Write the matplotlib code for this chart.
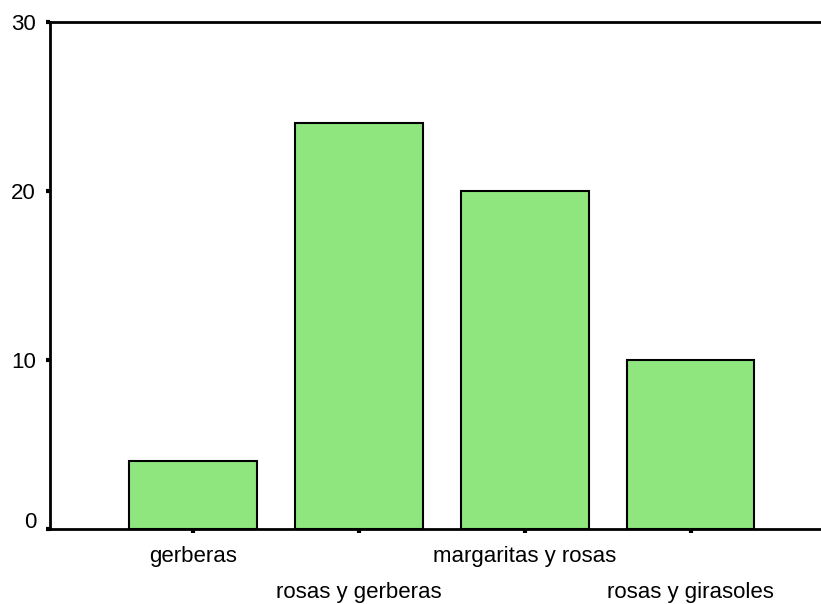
import matplotlib
matplotlib.use('Agg')
import matplotlib.pyplot as plt
import matplotlib.transforms as mtransforms

plt.rcParams['font.family'] = ['Liberation Sans', 'DejaVu Sans']

# datos
categorias = ['gerberas', 'rosas y gerberas', 'margaritas y rosas', 'rosas y girasoles']
valores = [4, 24, 20, 10]
yticks = [0, 10, 20, 30]

fig = plt.figure(figsize=(8.21, 6.04), dpi=100)
ax = fig.add_axes([50 / 821, 1 - 529 / 604, 770 / 821, 507 / 604])

x = range(len(categorias))
ax.bar(x, valores, width=0.77, color='#8fe67f', edgecolor='black', linewidth=1.5, zorder=2)

ax.set_xlim(-0.86, 3.78)
ax.set_ylim(0, 30)
ax.set_yticks(yticks)
ax.set_yticklabels([str(v) for v in yticks])
ax.set_xticks(list(x))
ax.set_xticklabels(categorias)

for s in ax.spines.values():
    s.set_linewidth(2)
ax.spines['right'].set_visible(False)

ax.tick_params(axis='both', direction='out', length=3, width=3, labelsize=16, colors='black')
ax.tick_params(axis='y', pad=7)

# el "0" va un poco más arriba, como en el original
lbl0 = ax.get_yticklabels()[0]
lbl0.set_transform(lbl0.get_transform() + mtransforms.ScaledTranslation(0, 9 / 100, fig.dpi_scale_trans))

# etiquetas escalonadas
for i, t in enumerate(ax.xaxis.get_major_ticks()):
    t.set_pad(9 if i % 2 == 0 else 35)

plt.savefig('out.png', dpi=100)
